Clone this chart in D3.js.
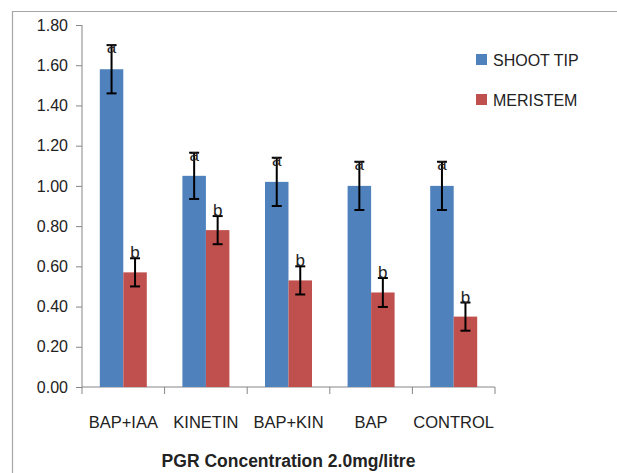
<!DOCTYPE html>
<html>
<head>
<meta charset="utf-8">
<script src="https://cdn.jsdelivr.net/npm/d3@7/dist/d3.min.js"></script>
<style>
  body { margin: 0; background: #fff; }
  .chart { width: 617px; height: 473px; }
  text { font-family: "Liberation Sans", Arial, sans-serif; fill: #222; }
</style>
</head>
<body>
<div class="chart"></div>
<script>
var categories = ["BAP+IAA", "KINETIN", "BAP+KIN", "BAP", "CONTROL"];
var seriesNames = ["SHOOT TIP", "MERISTEM"];
var shootTip = [1.58, 1.05, 1.02, 1.00, 1.00];
var meristem = [0.57, 0.78, 0.53, 0.47, 0.35];
var shootTipErr = [0.12, 0.115, 0.12, 0.12, 0.12];
var meristemErr = [0.07, 0.07, 0.07, 0.072, 0.07];
var shootTipLetters = ["a", "a", "a", "a", "a"];
var meristemLetters = ["b", "b", "b", "b", "b"];
var yTicks = [0, 0.2, 0.4, 0.6, 0.8, 1.0, 1.2, 1.4, 1.6, 1.8];
var xTitle = "PGR Concentration 2.0mg/litre";
var colors = ["#4F81BD", "#C0504D"];

function drawChart() {
  var eleChart = d3.select(".chart").html(""),
      margin = {top: 25, left: 82},
      width = 413,
      height = 362;

  var svg = eleChart.append("svg").attr("width", 617).attr("height", 473);

  // outer frame (only top and left edges visible)
  svg.append("path")
    .attr("d", "M12.5,473 V11.5 H617")
    .attr("fill", "none")
    .attr("stroke", "#a6a6a6")
    .attr("stroke-width", 1.2);

  var g = svg.append("g")
    .attr("transform", "translate(" + margin.left + "," + margin.top + ")");

  var x0 = d3.scaleBand().domain(categories).range([0, width]).paddingInner(0).paddingOuter(0);
  var x1 = d3.scaleBand().domain(seriesNames).range([0, 47]).padding(0);
  var y = d3.scaleLinear().domain([0, 1.8]).range([height, 0]);

  var data = categories.map(function(c, i) {
    return {
      cat: c,
      vals: [
        {s: seriesNames[0], v: shootTip[i], e: shootTipErr[i], l: shootTipLetters[i], c: colors[0]},
        {s: seriesNames[1], v: meristem[i], e: meristemErr[i], l: meristemLetters[i], c: colors[1]}
      ]
    };
  });

  // y axis
  var yAxis = g.append("g")
    .attr("class", "axis axis-y")
    .call(d3.axisLeft(y).tickValues(yTicks).tickFormat(d3.format(".2f")).tickSize(6).tickPadding(8));
  yAxis.select(".domain").attr("stroke", "#868686").attr("d", "M0," + height + "V0");
  yAxis.selectAll(".tick line").attr("stroke", "#868686");
  yAxis.selectAll(".tick text").style("font-size", "16px").attr("fill", "#222");

  // x axis
  var xAxis = g.append("g")
    .attr("class", "axis axis-x")
    .attr("transform", "translate(0," + height + ")")
    .call(d3.axisBottom(x0).tickSize(0).tickPadding(29));
  xAxis.select(".domain").attr("stroke", "#868686").attr("d", "M0,0H" + width);
  xAxis.selectAll(".tick text").style("font-size", "16.5px").attr("fill", "#222");
  xAxis.selectAll(".sep")
    .data(d3.range(categories.length + 1))
    .enter().append("line")
      .attr("x1", function(d) { return d * x0.bandwidth(); })
      .attr("x2", function(d) { return d * x0.bandwidth(); })
      .attr("y1", 0).attr("y2", 7)
      .attr("stroke", "#868686");

  var groups = g.selectAll(".grp")
    .data(data)
    .enter().append("g")
      .attr("class", "grp")
      .attr("transform", function(d) { return "translate(" + (x0(d.cat) + (x0.bandwidth() - 47) / 2) + ",0)"; });

  groups.selectAll(".bar")
    .data(function(d) { return d.vals; })
    .enter().append("rect")
      .attr("class", "bar")
      .attr("x", function(d) { return x1(d.s); })
      .attr("y", function(d) { return y(d.v); })
      .attr("width", x1.bandwidth())
      .attr("height", function(d) { return height - y(d.v); })
      .attr("fill", function(d) { return d.c; });

  var err = groups.selectAll(".err")
    .data(function(d) { return d.vals; })
    .enter().append("g")
      .attr("class", "err")
      .attr("transform", function(d) { return "translate(" + (x1(d.s) + x1.bandwidth() / 2) + ",0)"; });

  err.append("line")
    .attr("x1", 0).attr("x2", 0)
    .attr("y1", function(d) { return y(d.v + d.e); })
    .attr("y2", function(d) { return y(d.v - d.e); })
    .attr("stroke", "#000").attr("stroke-width", 2);
  err.append("line")
    .attr("x1", -5).attr("x2", 5)
    .attr("y1", function(d) { return y(d.v + d.e); })
    .attr("y2", function(d) { return y(d.v + d.e); })
    .attr("stroke", "#000").attr("stroke-width", 2);
  err.append("line")
    .attr("x1", -5).attr("x2", 5)
    .attr("y1", function(d) { return y(d.v - d.e); })
    .attr("y2", function(d) { return y(d.v - d.e); })
    .attr("stroke", "#000").attr("stroke-width", 2);

  err.append("text")
    .attr("text-anchor", "middle")
    .attr("y", function(d) { return y(d.v + d.e) + (d.l === "a" ? 8 : 0); })
    .style("font-size", "17px")
    .text(function(d) { return d.l; });

  // legend
  var legend = svg.append("g").attr("transform", "translate(476,54)");
  var li = legend.selectAll(".li")
    .data(seriesNames)
    .enter().append("g")
      .attr("class", "li")
      .attr("transform", function(d, i) { return "translate(0," + (i * 40) + ")"; });
  li.append("rect")
    .attr("width", 11).attr("height", 11)
    .attr("fill", function(d, i) { return colors[i]; });
  li.append("text")
    .attr("x", 17).attr("y", 11.5)
    .style("font-size", "16px")
    .text(function(d) { return d; });

  // x title
  svg.append("text")
    .attr("x", margin.left + width / 2)
    .attr("y", 467)
    .attr("text-anchor", "middle")
    .style("font-size", "17.5px")
    .style("font-weight", "bold")
    .text(xTitle);
}

drawChart();
</script>
</body>
</html>
